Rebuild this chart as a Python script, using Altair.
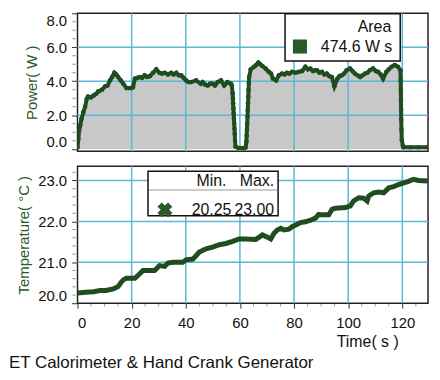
import altair as alt
import pandas as pd

GREEN = "#1f4d1f"
TITLE_GREEN = "#2b5a2b"
GRID = "#5ab9d5"
FONT = "Liberation Sans"

# ---- data ----
power_samples = [
    (0, 0.10), (0.3, 0.6), (0.6, 1.1), (1.0, 1.4), (1.5, 1.8), (2.2, 2.2), (2.8, 2.5),
    (3.4, 2.95), (3.9, 3.1), (5.0, 3.05), (5.9, 3.15), (6.8, 3.25), (7.7, 3.4), (9.0, 3.5),
    (10.2, 3.7), (11.1, 3.75), (12.0, 4.05), (12.8, 4.25), (13.6, 4.5), (14.3, 4.4),
    (15.0, 4.25), (16.0, 4.05), (16.9, 3.85), (18.1, 3.6), (19.0, 3.6), (19.9, 3.6),
    (20.5, 3.65), (21.2, 4.15), (22.1, 4.2), (23.0, 4.25), (23.9, 4.2), (24.8, 4.35),
    (25.7, 4.25), (26.7, 4.3), (27.9, 4.5), (29.1, 4.7), (30.3, 4.5), (31.2, 4.45),
    (32.2, 4.5), (33.4, 4.4), (34.6, 4.5), (35.5, 4.4), (36.5, 4.5), (37.4, 4.35),
    (38.3, 4.35), (39.2, 4.2), (40.1, 4.05), (41.0, 3.95), (42.0, 3.95), (43.8, 4.05),
    (45.6, 3.85), (46.2, 3.95), (47.2, 3.8), (48.1, 3.75), (49.0, 3.85), (49.9, 3.85),
    (50.8, 3.75), (51.8, 3.95), (53.0, 4.05), (54.2, 3.75), (55.4, 3.95), (56.7, 3.85),
    (57.0, 3.75), (57.3, 3.3), (57.4, 3.0), (57.5, 2.7), (57.6, 2.4), (57.7, 2.1),
    (57.8, 1.8), (57.9, 1.5), (58.0, 1.2), (58.1, 0.9), (58.2, 0.5), (58.4, 0.15),
    (59.5, 0.07), (60.5, 0.07), (61.5, 0.07), (62.1, 0.1), (62.4, 0.45), (62.5, 0.8),
    (62.6, 1.15), (62.7, 1.5), (62.8, 1.9), (62.9, 2.3), (63.0, 2.7), (63.1, 3.1),
    (63.2, 3.5), (63.3, 3.9), (63.4, 4.25), (64.0, 4.7), (65.2, 4.85), (66.0, 4.95),
    (66.8, 5.1), (67.5, 5.0), (68.3, 4.9), (69.5, 4.75), (70.7, 4.55), (71.5, 4.45),
    (72.2, 4.15), (73.4, 4.05), (74.4, 4.35), (75.6, 4.45), (76.5, 4.4), (77.4, 4.5),
    (78.3, 4.45), (79.3, 4.55), (80.5, 4.5), (81.7, 4.55), (83.0, 4.6), (84.2, 4.85),
    (85.1, 4.7), (86.0, 4.75), (87.0, 4.6), (87.9, 4.65), (88.5, 4.65), (89.4, 4.5),
    (90.3, 4.55), (91.2, 4.4), (92.1, 4.45), (93.0, 4.3), (94.0, 4.25), (94.9, 3.7),
    (96.0, 4.15), (96.8, 4.3), (97.6, 4.35), (98.5, 4.45), (99.4, 4.65), (100.7, 4.75),
    (101.6, 4.6), (102.5, 4.45), (103.5, 4.35), (104.4, 4.25), (105.3, 4.35), (106.2, 4.45),
    (107.1, 4.5), (108.0, 4.65), (109.2, 4.75), (110.2, 4.6), (111.1, 4.55), (112.0, 4.4),
    (112.9, 4.15), (114.1, 4.55), (115.0, 4.7), (116.0, 4.85), (117.2, 4.95), (118.4, 4.85),
    (119.3, 4.65), (119.4, 4.07), (119.45, 3.48), (119.5, 2.9), (119.55, 2.32),
    (119.6, 1.73), (119.7, 1.15), (119.8, 0.56), (120.2, 0.2), (120.5, 0.12),
    (123.0, 0.12), (126.0, 0.12), (129.5, 0.12),
]
power_t = [s[0] for s in power_samples]
power_w = [s[1] for s in power_samples]

temp_t = [0, 3, 6, 8.3, 10.5, 13.2, 15.0, 16.0, 16.9, 18.1, 21.2, 23.0, 24.2, 28.5, 30.3,
          32.2, 33.4, 35.2, 38.9, 40.1, 42.6, 43.8, 45.0, 47.5, 49.9, 52.4, 54.8, 57.3, 59.7,
          62.2, 65.8, 67.0, 68.3, 70.2, 71.4, 72.6, 73.8, 75.1, 76.3, 78.1, 79.3, 81.2, 82.4,
          84.2, 86.1, 87.9, 89.1, 90.4, 92.8, 94.1, 95.3, 99.0, 100.8, 102.0, 103.9, 105.7,
          107.0, 107.6, 109.4, 111.3, 113.1, 115.0, 116.8, 118.6, 120.5, 122.3, 124.1, 126.0,
          129.5]
temp_c = [20.25, 20.27, 20.28, 20.31, 20.31, 20.35, 20.41, 20.5, 20.57, 20.61, 20.61, 20.72,
          20.8, 20.8, 20.92, 20.9, 20.98, 21.0, 21.0, 21.06, 21.08, 21.16, 21.25, 21.33, 21.37,
          21.43, 21.46, 21.51, 21.57, 21.57, 21.56, 21.61, 21.67, 21.61, 21.57, 21.71, 21.79,
          21.83, 21.79, 21.81, 21.87, 21.93, 21.97, 21.99, 22.03, 22.08, 22.17, 22.16, 22.16,
          22.3, 22.32, 22.34, 22.38, 22.5, 22.58, 22.57, 22.5, 22.62, 22.7, 22.72, 22.7, 22.82,
          22.85, 22.9, 22.94, 22.98, 23.03, 23.0, 22.99]

x_ticks = [0, 20, 40, 60, 80, 100, 120]
x_grid = [20, 40, 60, 80, 100, 120]
x_minor = [5, 10, 15, 25, 30, 35, 45, 50, 55, 65, 70, 75, 85, 90, 95, 105, 110, 115, 125]
power_ticks = [0, 2, 4, 6, 8]
power_grid = [2, 4, 6]
power_minor = [0.5, 1, 1.5, 2.5, 3, 3.5, 4.5, 5, 5.5, 6.5, 7, 7.5]
temp_ticks = [20, 21, 22, 23]
temp_grid = [21, 22, 23]
temp_minor = [20.2, 20.4, 20.6, 20.8, 21.2, 21.4, 21.6, 21.8, 22.2, 22.4, 22.6, 22.8, 23.2]
area_legend = ["Area", "474.6 W s"]
temp_legend_head = ["Min.", "Max."]
temp_legend_vals = ["20.25", "23.00"]
footer_text = "ET Calorimeter & Hand Crank Generator"

W, H1, H2 = 353, 139, 138

pdf = pd.DataFrame({"t": power_t, "p": power_w})
tdf = pd.DataFrame({"t": temp_t, "c": temp_c})

xscale = alt.Scale(domain=[0, 129.5], nice=False, zero=False)
pscale = alt.Scale(domain=[-0.12, 8.0], nice=False, zero=False)
tscale = alt.Scale(domain=[20.0, 23.35], nice=False, zero=False)


def one(v):
    return pd.DataFrame({"s": [v]})


def label(v, x, y, size=16, align="right"):
    return alt.Chart(one(v)).mark_text(
        font=FONT, fontSize=size, color="#111", align=align, baseline="middle"
    ).encode(x=alt.value(x), y=alt.value(y), text="s:N")


# ---------- top: power ----------
x_top = alt.X("t:Q", scale=xscale,
              axis=alt.Axis(values=x_ticks, labels=False, ticks=False, domain=False,
                            title=None, grid=False))
y_top = alt.Y("p:Q", scale=pscale,
              axis=alt.Axis(values=power_ticks, format=".1f", title="Power( W )",
                            labelFlush=5, grid=False))

base_p = alt.Chart(pdf)
area = base_p.mark_area(color="#c8c8c8", clip=True).encode(x=x_top, y=y_top, y2=alt.datum(0))
pline = base_p.mark_line(color=GREEN, strokeWidth=4, clip=True).encode(x=x_top, y=y_top)
ppts = base_p.mark_point(color=GREEN, filled=True, opacity=1, size=22, clip=True).encode(
    x=x_top, y=y_top)
p_vgrid = alt.Chart(pd.DataFrame({"t": x_grid})).mark_rule(color=GRID, strokeWidth=1.5).encode(x=x_top)
p_hgrid = alt.Chart(pd.DataFrame({"p": power_grid})).mark_rule(color=GRID, strokeWidth=1.5).encode(y=y_top)
p_minor = alt.Chart(pd.DataFrame({"p": power_minor})).mark_rule(color="#888", strokeWidth=1).encode(
    y=y_top, x=alt.value(-5), x2=alt.value(-2))

leg1_box = alt.Chart(one(0)).mark_rect(fill="white", stroke="#111", strokeWidth=1.5).encode(
    x=alt.value(209), x2=alt.value(325), y=alt.value(0.5), y2=alt.value(48))
leg1_sq = alt.Chart(one(0)).mark_square(color="#2a5a2a", filled=True, opacity=1, size=200).encode(
    x=alt.value(224), y=alt.value(33.5))
top = alt.layer(
    area, p_vgrid, p_hgrid, p_minor, pline, ppts, leg1_box, leg1_sq,
    label(area_legend[0], 316, 14), label(area_legend[1], 317, 34),
).properties(width=W, height=H1)

# ---------- bottom: temperature ----------
x_bot = alt.X("t:Q", scale=xscale,
              axis=alt.Axis(values=x_ticks, title="Time( s )", labelFlush=5,
                            titleX=323, titleY=39, titleAlign="right",
                            titleBaseline="middle", titleColor="#111", titleFontSize=16,
                            labelPadding=7, tickSize=5, grid=False))
y_bot = alt.Y("c:Q", scale=tscale,
              axis=alt.Axis(values=temp_ticks, format=".1f", title="Temperature( °C )",
                            labelFlush=5, grid=False))

tline = alt.Chart(tdf).mark_line(color=GREEN, strokeWidth=5, clip=True).encode(x=x_bot, y=y_bot)
t_vgrid = alt.Chart(pd.DataFrame({"t": x_grid})).mark_rule(color=GRID, strokeWidth=1.5).encode(x=x_bot)
t_hgrid = alt.Chart(pd.DataFrame({"c": temp_grid})).mark_rule(color=GRID, strokeWidth=1.5).encode(y=y_bot)
t_minor = alt.Chart(pd.DataFrame({"c": temp_minor})).mark_rule(color="#888", strokeWidth=1).encode(
    y=y_bot, x=alt.value(-5), x2=alt.value(-2))
x_minor_r = alt.Chart(pd.DataFrame({"t": x_minor})).mark_rule(color="#888", strokeWidth=1).encode(
    x=x_bot, y=alt.value(H2 + 1), y2=alt.value(H2 + 3))

leg2_box = alt.Chart(one(0)).mark_rect(fill="white", stroke="#111", strokeWidth=1.5).encode(
    x=alt.value(71), x2=alt.value(202), y=alt.value(5), y2=alt.value(50))
leg2_sep = alt.Chart(one(0)).mark_rule(color="#999", strokeWidth=1).encode(
    x=alt.value(72), x2=alt.value(201), y=alt.value(24))
leg2_x = alt.Chart(one(0)).mark_point(shape="cross", angle=45, color="#2a5a2a", filled=True,
                                      opacity=1, size=230).encode(x=alt.value(88), y=alt.value(44))
footer = alt.Chart(one(footer_text)).mark_text(
    font=FONT, fontSize=17, color="#111", align="left", baseline="middle"
).encode(x=alt.value(-69), y=alt.value(198), text="s:N")

bottom = alt.layer(
    t_vgrid, t_hgrid, t_minor, x_minor_r, tline,
    leg2_box, leg2_sep, leg2_x,
    label(temp_legend_head[0], 150, 15), label(temp_legend_head[1], 198, 15),
    label(temp_legend_vals[0], 155, 44), label(temp_legend_vals[1], 198, 44),
    footer,
).properties(width=W, height=H2)

chart = alt.vconcat(top, bottom, spacing=11).properties(
    padding={"left": 0, "top": 2, "right": 2, "bottom": 2}
).configure_view(stroke="#222", strokeWidth=1.5).configure_axis(
    labelFont=FONT, labelFontSize=15, labelColor="#111",
    titleFont=FONT, titleFontSize=15, titleFontWeight="normal", titleColor=TITLE_GREEN,
    titlePadding=6, tickColor="#333", tickSize=6, labelPadding=5, domain=False,
)

chart.save("out.html", embed_options={"renderer": "svg", "actions": False})
